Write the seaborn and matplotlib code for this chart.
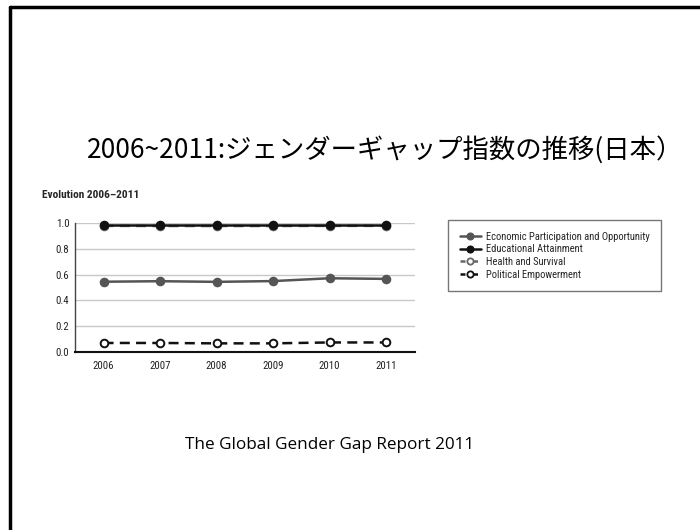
import numpy as np
import pandas as pd
import seaborn as sns
import matplotlib.pyplot as plt
from matplotlib.lines import Line2D
from matplotlib import font_manager

# data
years = [2006, 2007, 2008, 2009, 2010, 2011]
economic = [0.545, 0.549, 0.544, 0.550, 0.572, 0.567]
education = [0.986, 0.986, 0.986, 0.986, 0.986, 0.986]
health = [0.980, 0.979, 0.979, 0.979, 0.980, 0.980]
political = [0.068, 0.068, 0.065, 0.065, 0.072, 0.072]
series_names = ["Economic Participation and Opportunity", "Educational Attainment",
                "Health and Survival", "Political Empowerment"]
yticks = [0.0, 0.2, 0.4, 0.6, 0.8, 1.0]

sns.set_style("white")
plt.rcParams["font.family"] = ["Noto Sans CJK JP", "DejaVu Sans"]

# pick a condensed face for the chart if one is installed
installed = {(f.name, f.stretch) for f in font_manager.fontManager.ttflist}
installed_names = {n for n, _ in installed}
narrow = ["DejaVu Sans"]
stretch = "normal"
for cand in ["Liberation Sans Narrow", "Roboto Condensed", "Open Sans Condensed", "Noto Sans Condensed"]:
    if cand in installed_names:
        narrow = [cand, "DejaVu Sans"]
        break
else:
    if any(n == "DejaVu Sans" and s in ("condensed", "semi-condensed", 600, 500) for n, s in installed):
        stretch = "condensed"
    elif any(n == "Roboto" and s not in ("normal", 500) for n, s in installed):
        narrow = ["Roboto", "DejaVu Sans"]
        stretch = "condensed"
narrow_prop = dict(family=narrow, stretch=stretch)

fig = plt.figure(figsize=(7, 5.3), dpi=100)
W, H = 700, 530

# slide frame (only top and left edge visible)
fig.add_artist(Line2D([10 / W, 10 / W], [0, 1 - 7 / H], transform=fig.transFigure, color="black", lw=2.5))
fig.add_artist(Line2D([10 / W, 1], [1 - 7 / H, 1 - 7 / H], transform=fig.transFigure, color="black", lw=2.5))

fig.text(385 / W, 1 - 150 / H, "2006~2011:ジェンダーギャップ指数の推移(日本）",
         ha="center", va="center", fontsize=19, color="black")
fig.text(330 / W, 1 - 445 / H, "The Global Gender Gap Report 2011",
         ha="center", va="center", fontsize=12.3, family=["Open Sans", "DejaVu Sans"], color="black")
fig.text(42 / W, 1 - 195 / H, "Evolution 2006\u20132011", ha="left", va="center",
         fontsize=8.2, fontweight="bold", **narrow_prop)

ax = fig.add_axes([75 / W, 178.3 / H, 340 / W, 128.4 / H])

styles = [
    dict(values=economic, color="#555555", ls="-", mfc="#555555", mec="#555555", z=5),
    dict(values=education, color="#111111", ls="-", mfc="#111111", mec="#111111", z=6),
    dict(values=health, color="#666666", ls="--", mfc="white", mec="#666666", z=3),
    dict(values=political, color="#111111", ls="--", mfc="white", mec="#111111", z=4),
]
for s in styles:
    df = pd.DataFrame({"year": years, "value": s["values"]})
    sns.lineplot(data=df, x="year", y="value", ax=ax, color=s["color"], linestyle=s["ls"],
                 marker="o", markersize=5.5, markerfacecolor=s["mfc"], markeredgecolor=s["mec"],
                 markeredgewidth=1.4, linewidth=1.8, clip_on=False, zorder=s["z"])
    if s["ls"] == "--":
        ax.lines[-1].set_dashes([4, 2.5])

ax.set_xlim(2005.495, 2011.51)
ax.set_ylim(0, 1)
ax.set_xticks(years)
ax.set_yticks(yticks)
ax.set_yticklabels([f"{v:.1f}" for v in yticks])
ax.set_xlabel("")
ax.set_ylabel("")
ax.yaxis.grid(True, color="#c8c8c8", lw=1.0)
ax.set_axisbelow(True)
for side in ["top", "right"]:
    ax.spines[side].set_visible(False)
ax.spines["left"].set_color("#444444")
ax.spines["left"].set_linewidth(1.0)
ax.spines["bottom"].set_color("#111111")
ax.spines["bottom"].set_linewidth(1.5)
ax.tick_params(axis="x", direction="in", length=3, width=1, pad=7, labelsize=7.8, color="#111111")
ax.tick_params(axis="y", direction="out", length=2, width=0.8, pad=2, labelsize=7.8, color="#888888")
for lab in ax.get_xticklabels() + ax.get_yticklabels():
    lab.set_family(narrow)
    lab.set_stretch(stretch)
    lab.set_color("#222222")

handles = []
for s, name in zip(styles, series_names):
    h = Line2D([], [], color=s["color"], linestyle=s["ls"], marker="o", markersize=4.5,
               markerfacecolor=s["mfc"], markeredgecolor=s["mec"], markeredgewidth=1.3,
               linewidth=1.8, label=name)
    if s["ls"] == "--":
        h.set_dashes([2, 3])
    handles.append(h)
leg = fig.legend(handles=handles, loc="upper left", bbox_to_anchor=(448 / W, 1 - 220 / H),
                 borderaxespad=0, frameon=True, fancybox=False, handlelength=2.0,
                 handletextpad=0.5, labelspacing=0.25, borderpad=1.1,
                 prop=font_manager.FontProperties(family=narrow, stretch=stretch, size=7.6))
leg.get_frame().set_edgecolor("#555555")
leg.get_frame().set_linewidth(1.0)

fig.savefig("out.png", dpi=100)
